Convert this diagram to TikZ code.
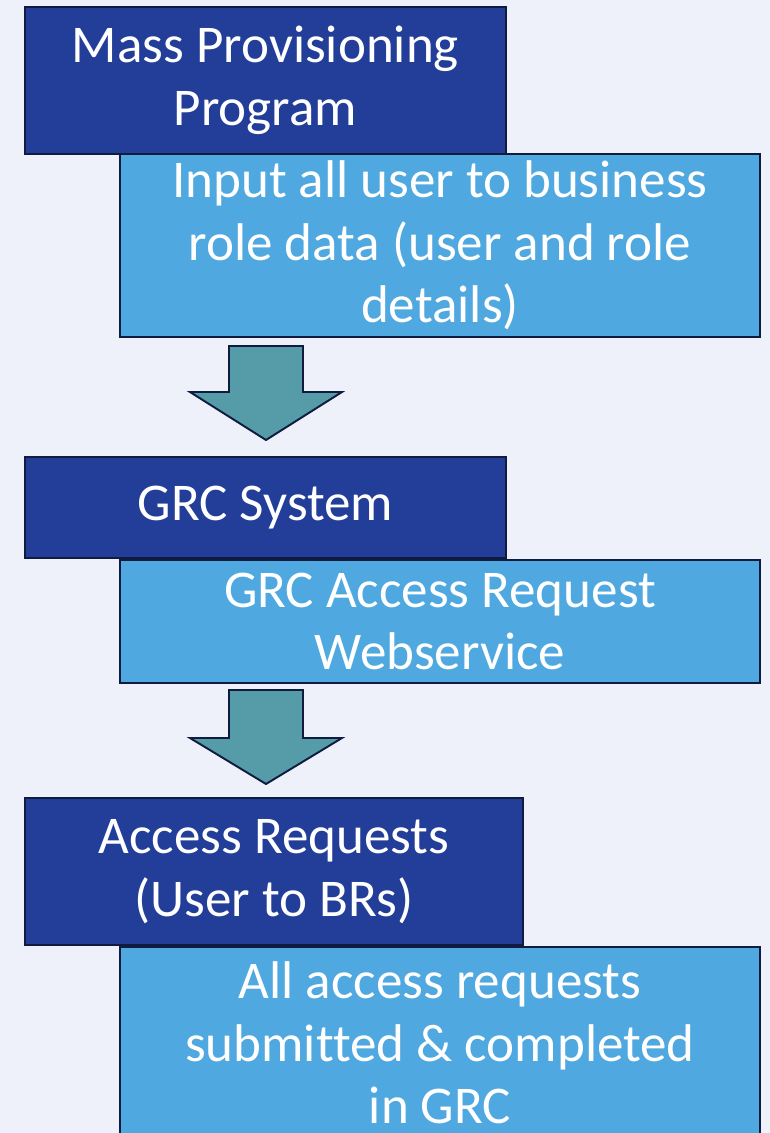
\documentclass[tikz,border=0pt]{standalone}
\usepackage{fontspec}
\setmainfont[Ligatures=NoCommon]{Carlito}
\usetikzlibrary{positioning}

\definecolor{bgpale}{RGB}{238,241,249}
\definecolor{darkbox}{RGB}{35,62,153}
\definecolor{lightbox}{RGB}{79,168,223}
\definecolor{arrowteal}{RGB}{85,155,168}
\definecolor{edgenavy}{RGB}{15,28,64}

\tikzset{
    boxbase/.style={draw=edgenavy, line width=1.1pt, text=white, align=center, inner sep=0pt,
        font=\fontsize{30.2}{35.7}\selectfont},
    titlebox/.style={boxbase, fill=darkbox},
    detailbox/.style={boxbase, fill=lightbox},
    downarrow/.style={draw=edgenavy, line width=1.1pt, fill=arrowteal, line join=miter}
}

\begin{document}
\begin{tikzpicture}[x=0.02cm, y=-0.02cm]
    % page area and background
    \useasboundingbox (0,0) rectangle (770,1133);
    \clip (0,0) rectangle (770,1133);
    \fill[bgpale] (0,0) rectangle (770,1133);

    % Step 1: Mass Provisioning
    \node[titlebox, minimum width=9.62cm, minimum height=2.94cm] (massprog) at (265.5,80.5)
        {Mass Provisioning\\Program};
    \node[detailbox, minimum width=12.8cm, minimum height=3.66cm] (inputdata) at (440,245.5)
        {Input all user to business\\role data (user and role\\details)};

    % arrow 1
    \draw[downarrow] (229,346) -- (303,346) -- (303,392) -- (342,392) -- (266,440)
        -- (190,392) -- (229,392) -- cycle;

    % Step 2: GRC System
    \node[titlebox, minimum width=9.62cm, minimum height=2.02cm] (grcsys) at (265.5,507.5)
        {GRC System};
    \node[detailbox, minimum width=12.8cm, minimum height=2.46cm] (webservice) at (440,621.5)
        {GRC Access Request\\Webservice};

    % arrow 2
    \draw[downarrow] (229,690) -- (303,690) -- (303,738) -- (342,738) -- (266,784)
        -- (190,738) -- (229,738) -- cycle;

    % Step 3: Access Requests
    \node[titlebox, minimum width=9.96cm, minimum height=2.94cm] (accreq) at (274,871.5)
        {Access Requests\\(User to BRs)};
    \node[detailbox, minimum width=12.8cm, minimum height=3.84cm] (completed) at (440,1043)
        {All access requests\\submitted \& completed\\in GRC};
\end{tikzpicture}
\end{document}
